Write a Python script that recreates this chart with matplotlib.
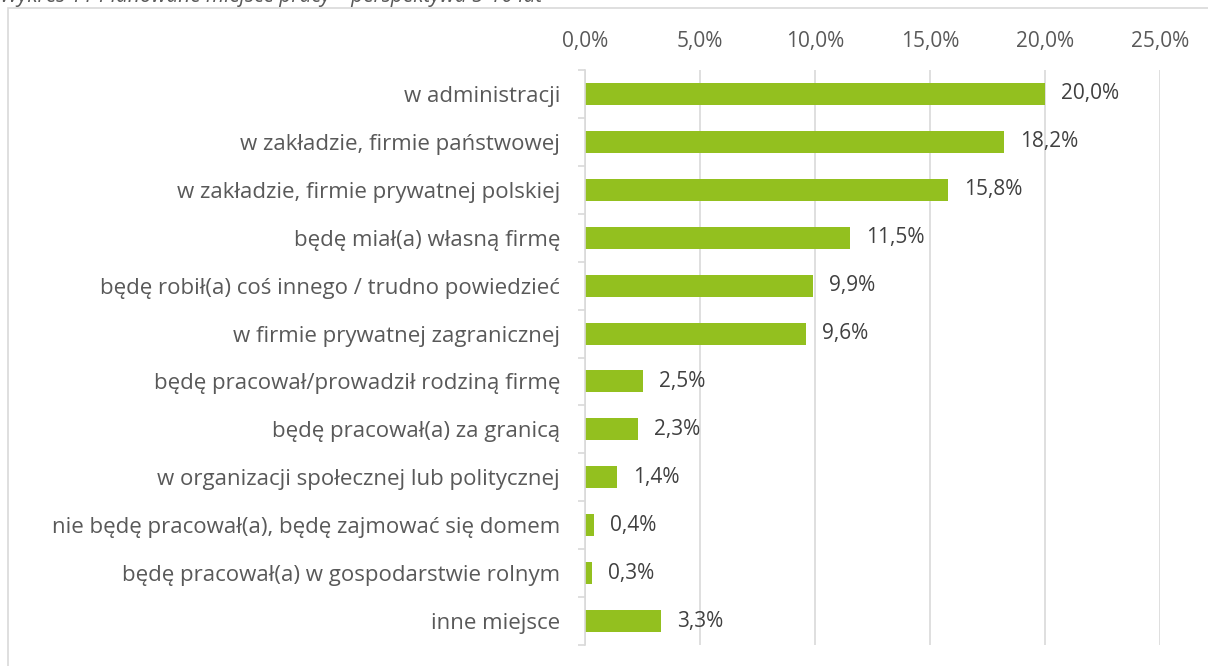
import matplotlib.pyplot as plt
from matplotlib.patches import Rectangle
from matplotlib.ticker import FuncFormatter

categories = [
    'w administracji',
    'w zakładzie, firmie państwowej',
    'w zakładzie, firmie prywatnej polskiej',
    'będę miał(a) własną firmę',
    'będę robił(a) coś innego / trudno powiedzieć',
    'w firmie prywatnej zagranicznej',
    'będę pracował/prowadził rodziną firmę',
    'będę pracował(a) za granicą',
    'w organizacji społecznej lub politycznej',
    'nie będę pracował(a), będę zajmować się domem',
    'będę pracował(a) w gospodarstwie rolnym',
    'inne miejsce',
]
values = [20.0, 18.2, 15.8, 11.5, 9.9, 9.6, 2.5, 2.3, 1.4, 0.4, 0.3, 3.3]
x_ticks = [0, 5, 10, 15, 20, 25]

plt.rcParams['font.family'] = ['Open Sans', 'DejaVu Sans']

fig = plt.figure(figsize=(12.08, 6.66), dpi=100)
fig.patches.append(Rectangle((8 / 1208, -0.01), 1.0, 1 - 8 / 666 + 0.01,
                             transform=fig.transFigure, fill=False,
                             edgecolor='#D9D9D9', linewidth=1.2))
# title is cropped at the top edge, as in the source
fig.text(0.0, 1 - 2 / 666, 'Wykres 11 Planowane miejsce pracy – perspektywa 5-10 lat',
         fontsize=15, style='italic', color='#595959', va='baseline', ha='left')

ax = fig.add_axes([585 / 1208, 1 - 645 / 666, (1160 - 585) / 1208, (645 - 70) / 666])
ypos = list(range(len(categories)))
ax.barh(ypos, values, height=0.46, color='#93C01F')
ax.set_ylim(len(categories) - 0.5, -0.5)
ax.set_xlim(0, 25)
ax.set_xticks(x_ticks)
ax.xaxis.set_major_formatter(FuncFormatter(lambda v, p: f'{v:.1f}%'.replace('.', ',')))
ax.xaxis.tick_top()
ax.tick_params(axis='x', length=0, labelsize=15, labelcolor='#595959', pad=13)
ax.grid(axis='x', color='#D9D9D9', linewidth=1.2)
ax.set_axisbelow(True)

ax.set_yticks(ypos)
ax.set_yticklabels(categories)
ax.tick_params(axis='y', length=0, labelsize=16, labelcolor='#595959', pad=18)
ax.set_yticks([i + 0.5 for i in range(-1, len(categories))], minor=True)
ax.tick_params(axis='y', which='minor', length=5, color='#D9D9D9', width=1.2)

for s in ['top', 'right', 'bottom']:
    ax.spines[s].set_visible(False)
ax.spines['left'].set_color('#D9D9D9')
ax.spines['left'].set_linewidth(1.2)

for y, v in zip(ypos, values):
    ax.text(v + 0.7, y, f'{v:.1f}%'.replace('.', ','), va='center', ha='left',
            fontsize=15, color='#404040')

fig.savefig('out.png', dpi=100)
